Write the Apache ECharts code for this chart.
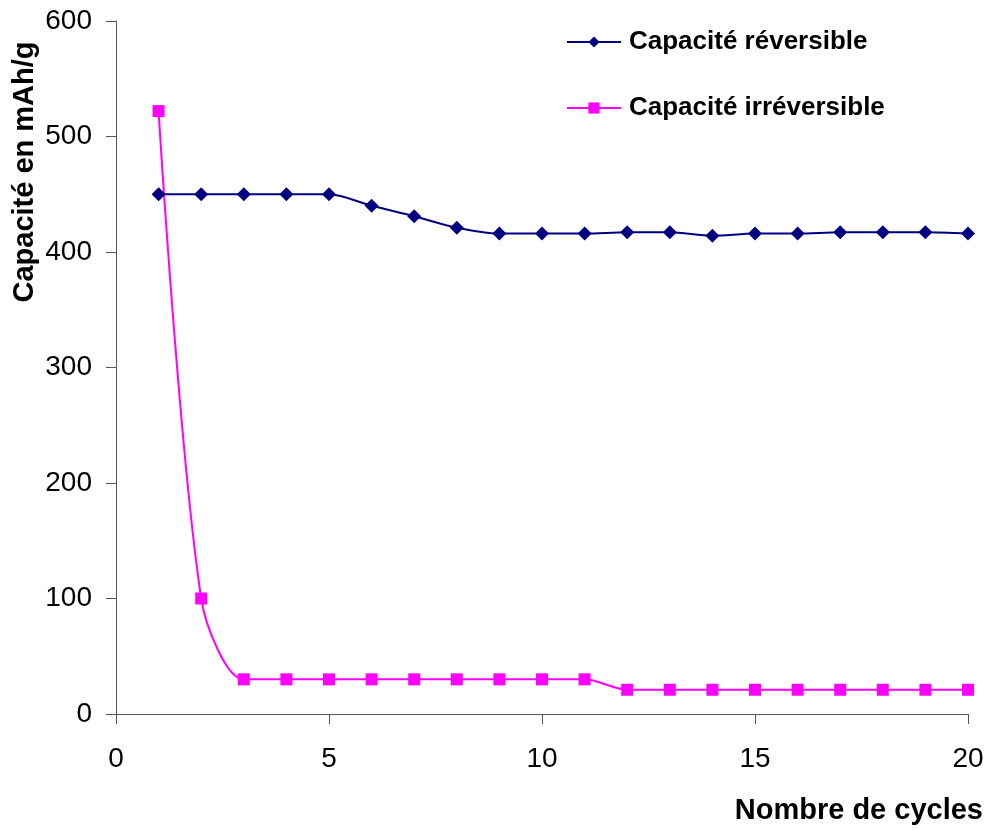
<!DOCTYPE html>
<html>
<head>
<meta charset="utf-8">
<script src="https://cdn.jsdelivr.net/npm/echarts@6/dist/echarts.min.js"></script>
<style>html,body{margin:0;padding:0;background:#fff;}#c{width:987px;height:830px;}</style>
</head>
<body>
<div id="c"></div>
<script>
const cycles = [1,2,3,4,5,6,7,8,9,10,11,12,13,14,15,16,17,18,19,20];
const reversible = [450,450,450,450,450,440,431,421,416,416,416,417,417,414,416,416,417,417,417,416];
const irreversible = [522,100,30,30,30,30,30,30,30,30,30,21,21,21,21,21,21,21,21,21];
const seriesNames = ['Capacité réversible','Capacité irréversible'];
const xTitle = 'Nombre de cycles';
const yTitle = 'Capacité en mAh/g';

const chart = echarts.init(document.getElementById('c'));
const font = 'Liberation Sans, Arial, sans-serif';
const axisCol = '#555';
chart.setOption({
  animation: false,
  backgroundColor: '#fff',
  grid: {left: 116, top: 21, right: 19, bottom: 116, containLabel: false, outerBoundsMode: 'none'},
  legend: {
    orient: 'vertical', left: 561, top: 24, itemGap: 40,
    itemWidth: 54, itemHeight: 14,
    textStyle: {fontFamily: font, fontSize: 26, fontWeight: 'bold', color: '#000', padding: [0,0,0,3]},
    data: seriesNames
  },
  graphic: [
    {type: 'text', x: 983, y: 811, style: {text: xTitle, fontFamily: font, fontSize: 29, fontWeight: 'bold', fill: '#000', align: 'right', verticalAlign: 'middle'}},
    {type: 'text', x: 25, y: 172, rotation: Math.PI/2, style: {text: yTitle, fontFamily: font, fontSize: 29, fontWeight: 'bold', fill: '#000', align: 'center', verticalAlign: 'middle'}}
  ],
  xAxis: {
    type: 'value', min: 0, max: 20, interval: 5,
    axisLine: {lineStyle: {color: axisCol, width: 1}},
    axisTick: {show: true, inside: false, length: 10, lineStyle: {color: axisCol}},
    axisLabel: {fontFamily: font, fontSize: 28, color: '#000', margin: 31},
    splitLine: {show: false}
  },
  yAxis: {
    type: 'value', min: 0, max: 600, interval: 100,
    axisLine: {show: true, lineStyle: {color: axisCol, width: 1}},
    axisTick: {show: true, inside: false, length: 10, lineStyle: {color: axisCol}},
    axisLabel: {fontFamily: font, fontSize: 28, color: '#000', margin: 24},
    splitLine: {show: false}
  },
  series: [
    {
      name: seriesNames[0], type: 'line', smooth: 0.3,
      data: cycles.map((c,i)=>[c, reversible[i]]),
      symbol: 'diamond', symbolSize: 14,
      lineStyle: {color: '#000080', width: 2},
      itemStyle: {color: '#000080'}
    },
    {
      name: seriesNames[1], type: 'line', smooth: 0.3,
      data: cycles.map((c,i)=>[c, irreversible[i]]),
      symbol: 'rect', symbolSize: 12,
      lineStyle: {color: '#FF00FF', width: 2},
      itemStyle: {color: '#FF00FF'}
    }
  ]
});
</script>
</body>
</html>
